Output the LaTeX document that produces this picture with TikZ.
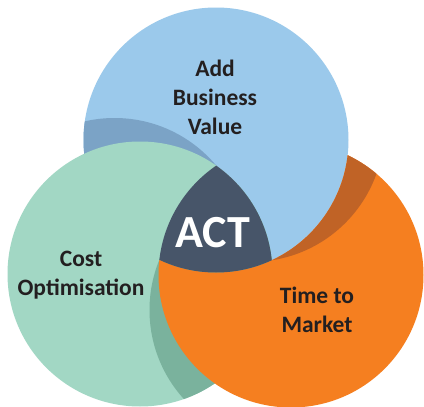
\documentclass[tikz,border=0pt]{standalone}
\usepackage{fontspec}
\setmainfont{Carlito}
\definecolor{lblue}{HTML}{9BC9EB}
\definecolor{dblue}{HTML}{7BA3C6}
\definecolor{lgreen}{HTML}{A2D7C4}
\definecolor{dgreen}{HTML}{7AB29D}
\definecolor{lorange}{HTML}{F57F20}
\definecolor{dorange}{HTML}{C06326}
\definecolor{actcol}{HTML}{475569}
\definecolor{txt}{HTML}{231F20}
\begin{document}
\begin{tikzpicture}[x=1pt,y=-1pt,
  lbl/.style={font=\fontsize{23.5}{29}\selectfont\bfseries, text=txt, align=center, inner sep=0pt},
  actlbl/.style={font=\fontsize{46}{50}\selectfont\bfseries, text=white, inner sep=0pt}]
\useasboundingbox (0,0) rectangle (424,407);
\fill[white] (0,0) rectangle (424,407);
\def\R{132.5pt}
\coordinate (B) at (216,140);
\coordinate (G) at (140,274);
\coordinate (O) at (291,275);
\coordinate (SG) at (114.5,250.5);
\coordinate (SB) at (251.6,129.3);
\coordinate (SO) at (282,310);
% blue circle with shadow of green
\fill[lblue] (B) circle[radius=\R];
\begin{scope}
  \clip (B) circle[radius=\R];
  \fill[dblue] (SG) circle[radius=\R];
\end{scope}
% green circle with shadow of orange
\fill[lgreen] (G) circle[radius=\R];
\begin{scope}
  \clip (G) circle[radius=\R];
  \fill[dgreen] (SO) circle[radius=\R];
\end{scope}
% orange circle, under blue
\begin{scope}
  \clip (O) circle[radius=\R];
  \fill[lorange, even odd rule] (-10,-10) rectangle (434,417) (B) circle[radius=\R];
\end{scope}
\begin{scope}
  \clip (O) circle[radius=\R];
  \clip (SB) circle[radius=\R];
  \fill[dorange, even odd rule] (-10,-10) rectangle (434,417) (B) circle[radius=\R];
\end{scope}
% centre
\begin{scope}
  \clip (B) circle[radius=\R];
  \clip (G) circle[radius=\R];
  \fill[actcol] (O) circle[radius=\R];
\end{scope}
\node[lbl] (value) at (215,97.5) {Add\\Business\\Value};
\node[lbl] (cost) at (81,275) {Cost\\Optimisation};
\node[lbl] (time) at (317,310) {Time to\\Market};
\node[actlbl] (act) at (212.5,232.5) {ACT};
\end{tikzpicture}
\end{document}
